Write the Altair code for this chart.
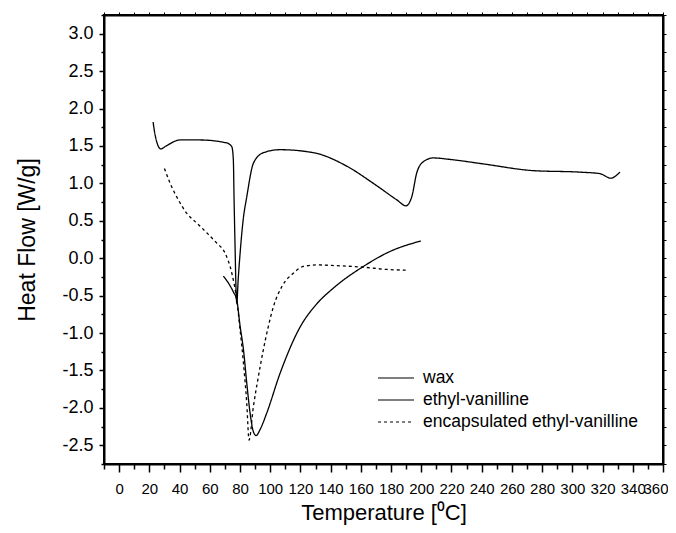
import altair as alt
import pandas as pd

wax_x = [22.5, 23.8, 27.6, 31.1, 40.4, 53.6, 71.3, 74.6, 75.6, 76.1, 76.8, 77.4, 77.9, 78.8, 80.1, 82.1, 84.5, 88.9, 95.5, 106.5,
         128.6, 150.7, 168.3, 183.8, 189.9, 193.7, 197.0, 201.4, 208.0, 219.0, 241.1, 274.2, 305.1, 318.3, 325.4, 331.5]
wax_y = [1.82, 1.65, 1.46, 1.50, 1.58, 1.58, 1.54, 1.49, 1.32, 0.78, 0.11, -0.42, -0.60, -0.29, 0.07, 0.51, 0.82, 1.27, 1.41, 1.45,
         1.41, 1.23, 1.00, 0.78, 0.70, 0.82, 1.14, 1.29, 1.34, 1.32, 1.26, 1.17, 1.15, 1.13, 1.07, 1.15]

ev_x = [69.0, 72.3, 75.6, 77.9, 80.1, 82.3, 84.5, 86.7, 88.9, 90.7, 93.3, 97.7, 106.5, 119.8, 130.4, 141.8, 161.7, 179.3, 199.7]
ev_y = [-0.24, -0.33, -0.45, -0.56, -0.91, -1.22, -1.67, -2.07, -2.32, -2.37, -2.29, -2.07, -1.54, -0.92, -0.62, -0.40, -0.11, 0.09, 0.23]

enc_x = [30.0, 33.8, 39.2, 44.8, 51.4, 58.0, 64.7, 70.1, 74.6, 77.9, 80.1, 82.3, 84.5, 86.0, 88.9, 92.2, 95.5, 98.8, 102.1,
         107.7, 115.3, 122.0, 130.8, 144.1, 161.7, 177.2, 191.5]
enc_y = [1.20, 1.00, 0.78, 0.60, 0.47, 0.34, 0.20, 0.07, -0.20, -0.56, -0.96, -1.40, -1.94, -2.43, -1.98, -1.58, -1.22, -0.91, -0.65,
         -0.38, -0.20, -0.11, -0.09, -0.10, -0.12, -0.15, -0.16]

series = ["wax", "ethyl-vanilline", "encapsulated ethyl-vanilline"]
x_ticks = list(range(-10, 361, 10))
y_ticks = [-2.75 + 0.25 * i for i in range(25)]

rows = []
for name, xs, ys in [(series[0], wax_x, wax_y), (series[1], ev_x, ev_y), (series[2], enc_x, enc_y)]:
    for i, (a, b) in enumerate(zip(xs, ys)):
        rows.append({"series": name, "T": a, "HF": b, "order": i})
df = pd.DataFrame(rows)

FONT = "Liberation Sans"
xscale = alt.Scale(domain=[-10, 360], nice=False, zero=False)
yscale = alt.Scale(domain=[-2.75, 3.25], nice=False, zero=False)

lines = alt.Chart(df).mark_line(interpolate="monotone", strokeWidth=1.3, color="black").encode(
    x=alt.X("T:Q", scale=xscale,
            axis=alt.Axis(values=x_ticks, title="Temperature [\u2070C]", grid=False,
                          labelExpr="datum.value == 340 ? datum.label + '\u2009\u2009' : (datum.value % 20 == 0 ? datum.label : '')",
                          tickSize={"condition": {"test": "datum.value % 20 != 0", "value": 5}, "value": 8},
                          labelAlign={"condition": {"test": "datum.value == 360", "value": "right"}, "value": "center"},
                          labelOffset={"condition": {"test": "datum.value == 360", "value": 5}, "value": 0},
                          labelFontSize=15, titleFontSize=22, labelPadding=9, titlePadding=6,
                          domainWidth=2, tickWidth=1.5, domainColor="black", tickColor="black",
                          labelColor="black", titleColor="black", labelFont=FONT, titleFont=FONT,
                          titleFontWeight="normal", labelFlush=False, labelOverlap=False)),
    y=alt.Y("HF:Q", scale=yscale,
            axis=alt.Axis(values=y_ticks, title="Heat Flow [W/g]", grid=False, format=".1f",
                          labelExpr="abs(datum.value*2 - round(datum.value*2)) < 1e-6 ? replace(datum.label, '\u2212', '-') : ''",
                          tickSize={"condition": {"test": "abs(datum.value*2 - round(datum.value*2)) > 1e-6", "value": 3}, "value": 5},
                          labelFontSize=18, titleFontSize=23, labelPadding=6, titlePadding=22,
                          domainWidth=2, tickWidth=1.5, domainColor="black", tickColor="black",
                          labelColor="black", titleColor="black", labelFont=FONT, titleFont=FONT,
                          titleFontWeight="normal", labelFlush=False, labelOverlap=False)),
    detail="series:N",
    order="order:Q",
    strokeDash=alt.StrokeDash("series:N", sort=series,
                              scale=alt.Scale(domain=series, range=[[1, 0], [1, 0], [3, 3]]),
                              legend=alt.Legend(orient="none", legendX=282, legendY=353, title=None,
                                                symbolType="M-2,0H2", symbolStrokeColor="black",
                                                symbolSize=324, symbolStrokeWidth=1.2,
                                                labelFontSize=17.5, labelFont=FONT, labelColor="black",
                                                labelOffset=17, rowPadding=3, padding=0, labelLimit=400)),
)

frame = alt.Chart(df).mark_point(opacity=0).encode(
    x=alt.X("T:Q", scale=xscale,
            axis=alt.Axis(orient="top", values=x_ticks, title=None, labels=False, grid=False,
                          tickSize=3, domainWidth=2, tickWidth=1, domainColor="black", tickColor="black")),
    y=alt.Y("HF:Q", scale=yscale,
            axis=alt.Axis(orient="right", values=y_ticks, title=None, labels=False, grid=False,
                          tickSize=3, domainWidth=2, tickWidth=1, domainColor="black", tickColor="black")),
)

chart = alt.layer(lines, frame).resolve_axis(x="independent", y="independent").properties(
    width=559, height=449,
    autosize=alt.AutoSizeParams(type="none"),
    padding={"left": 96, "top": 7, "right": 5, "bottom": 61},
).configure(background="white").configure_view(stroke="black", strokeWidth=2)

chart.save("out.html", embed_options={"renderer": "svg", "actions": False})
